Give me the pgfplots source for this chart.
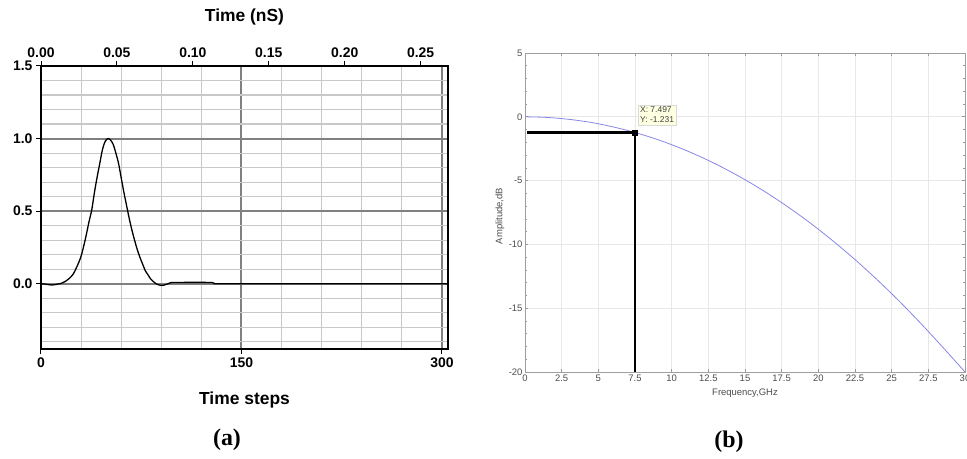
\documentclass[border=0pt]{standalone}
\usepackage{fontspec}
\setmainfont{Liberation Sans}
\newfontfamily\serifb{Liberation Serif}
\usepackage{pgfplots}
\pgfplotsset{compat=1.18}
\definecolor{majgrid}{RGB}{128,128,128}
\definecolor{mingrid}{RGB}{200,200,200}
\definecolor{curveb}{RGB}{135,135,230}
\definecolor{tipfill}{RGB}{255,255,225}
\begin{document}
\begin{tikzpicture}
\path[use as bounding box] (0,0) rectangle (967bp,459bp);
% ---------- panel (a) ----------
\begin{axis}[
  at={(41bp,110bp)}, anchor=south west,
  width=407bp, height=283bp, scale only axis,
  xmin=0, xmax=304.5, ymin=-0.45, ymax=1.5,
  xtick={0,150,300},
  minor xtick={30,60,90,120,180,210,240,270},
  ytick={0,0.5,1,1.5},
  minor ytick={-0.4,-0.3,-0.2,-0.1,0.1,0.2,0.3,0.4,0.6,0.7,0.8,0.9,1.1,1.2,1.3,1.4},
  grid=both,
  major grid style={majgrid, line width=2bp},
  minor grid style={mingrid, line width=1.1bp},
  xtick pos=left, ytick pos=left,
  tick align=outside, major tick length=5bp, minor tick length=0pt,
  tick style={black, line width=1bp},
  axis line style={black, line width=1.2bp},
  /pgf/number format/assume math mode=true,
  ticklabel style={font=\fontsize{14}{16}\selectfont\bfseries},
  yticklabel style={/pgf/number format/fixed, /pgf/number format/zerofill, /pgf/number format/precision=1},
  xlabel={Time steps},
  xlabel style={font=\fontsize{17.5}{20}\selectfont\bfseries, at={(axis description cs:0.5,-0.18)}, anchor=center},
]
\addplot[black, line width=1.3bp, smooth] coordinates {
(0,0) (4,-0.004) (8,-0.009) (12,-0.004) (15,0.002) (18,0.015) (21,0.035) (24,0.065)
(27,0.12) (30,0.19) (33,0.30) (36,0.43) (38,0.51) (40,0.63) (42,0.735) (44,0.83)
(46,0.925) (48,0.98) (50,1.0) (52,0.99) (54,0.96) (56,0.90) (58,0.83) (60,0.73)
(62,0.63) (64,0.54) (66,0.45) (68,0.37) (70,0.30) (72,0.236) (74,0.182) (76,0.136)
(78,0.09) (80,0.062) (82,0.033) (84,0.015) (86,0.0) (88,-0.008) (90,-0.012) (92,-0.010)
(94,-0.004) (96,0.003) (98,0.008) (110,0.009) (120,0.009) (128,0.008) (130,0.001)
(135,0) (200,0) (304.5,0)
};
\end{axis}
\begin{axis}[
  at={(41bp,110bp)}, anchor=south west,
  width=407bp, height=283bp, scale only axis,
  xmin=0, xmax=0.268, ymin=-0.45, ymax=1.5,
  axis x line*=top, axis y line=none,
  xtick={0,0.05,0.10,0.15,0.20,0.25},
  tick align=outside, major tick length=5bp,
  tick style={black, line width=1bp},
  axis line style={black, line width=1.2bp},
  /pgf/number format/assume math mode=true,
  ticklabel style={font=\fontsize{14}{16}\selectfont\bfseries},
  xticklabel style={/pgf/number format/fixed, /pgf/number format/zerofill, /pgf/number format/precision=2},
  xlabel={Time (nS)},
  xlabel style={font=\fontsize{17.5}{20}\selectfont\bfseries, at={(axis description cs:0.5,1.173)}, anchor=center},
]
\addplot[draw=none] coordinates {(0,0)};
\end{axis}
% ---------- panel (b) ----------
\begin{axis}[
  at={(525bp,87bp)}, anchor=south west,
  width=440bp, height=319bp, scale only axis,
  xmin=0, xmax=30, ymin=-20, ymax=5,
  xtick={0,2.5,5,7.5,10,12.5,15,17.5,20,22.5,25,27.5,30},
  ytick={-20,-15,-10,-5,0,5},
  minor y tick num=4,
  grid=major,
  major grid style={gray!18, line width=0.6bp},
  tick align=inside, major tick length=3bp, minor tick length=2bp,
  tick style={gray!80, line width=0.6bp},
  axis line style={gray!75, line width=0.9bp},
  /pgf/number format/assume math mode=true,
  ticklabel style={font=\fontsize{9.5}{11}\selectfont, text=black!70},
  xticklabel style={yshift=1bp},
  yticklabel style={xshift=1bp},
  xlabel={Frequency,GHz},
  xlabel style={font=\fontsize{9.5}{11}\selectfont, text=black!70, at={(axis description cs:0.5,-0.066)}, anchor=center},
  ylabel={Amplitude,dB},
  ylabel style={font=\fontsize{9.5}{11}\selectfont, text=black!70, at={(axis description cs:-0.057,0.489)}, anchor=center, rotate=0},
  clip=false,
]
\addplot[curveb, line width=0.8bp, smooth] coordinates {
(0,0) (1.5,-0.05) (3,-0.20) (4.5,-0.44) (6,-0.79) (7.5,-1.23) (9,-1.77) (10.5,-2.41)
(12,-3.15) (13.5,-3.99) (15,-4.93) (16.5,-5.97) (18,-7.12) (19.5,-8.37) (21,-9.73)
(22.5,-11.19) (24,-12.76) (25.5,-14.43) (27,-16.21) (28.5,-18.08) (30,-20.0)
};
\addplot[black, line width=2.4bp] coordinates {(0.12,-1.231) (7.497,-1.231)};
\addplot[black, line width=2.4bp] coordinates {(7.497,-1.231) (7.497,-20)};
\addplot[only marks, mark=square*, mark size=2.6bp, black] coordinates {(7.497,-1.231)};
\node[anchor=north west, fill=tipfill, draw=gray!30, line width=0.4bp, inner sep=2bp,
      font=\fontsize{8.5}{10}\selectfont, text=black!75, align=left]
  at (axis cs:7.7,0.95) {X: 7.497\\Y: -1.231};
\end{axis}
% ---------- panel captions ----------
\node[font=\serifb\fontsize{24}{26}\selectfont\bfseries] at (227bp,19bp) {(a)};
\node[font=\serifb\fontsize{24}{26}\selectfont\bfseries] at (729bp,17bp) {(b)};
\end{tikzpicture}
\end{document}
